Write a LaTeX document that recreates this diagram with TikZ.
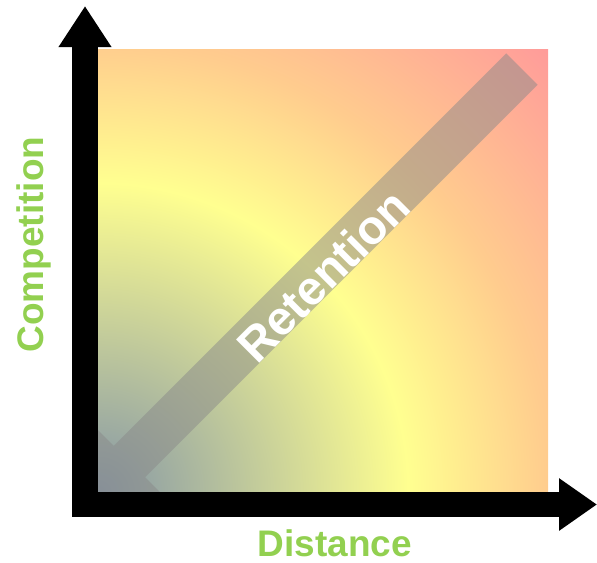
\documentclass[tikz,border=0pt]{standalone}
\usepackage{fontspec}
\setmainfont{Liberation Sans}
\usepackage{tikz}
\usetikzlibrary{arrows.meta}

\definecolor{bgcore}{HTML}{8496A6}
\definecolor{bgyellow}{HTML}{FFFF90}
\definecolor{bgorange}{HTML}{FFCC8E}
\definecolor{bgpink}{HTML}{FF9A9A}
\definecolor{labelgreen}{HTML}{92D050}

\pgfdeclareradialshading{retentionbg}{\pgfpointorigin}{%
  color(0bp)=(bgcore); color(12.11bp)=(bgyellow); color(17.58bp)=(bgorange);
  color(24.84bp)=(bgpink); color(50bp)=(bgpink)}

\tikzset{
  axislabel/.style={font=\fontsize{26.3}{26.3}\selectfont\bfseries, text=labelgreen, inner sep=0pt},
  axisline/.style={line width=0.625cm, line join=miter,
    {Triangle[length=1.025cm,width=1.25cm]}-{Triangle[length=0.95cm,width=1.25cm]}},
  retentionband/.style={fill=black!46, fill opacity=0.5}
}

\begin{document}
\begin{tikzpicture}[x=0.025cm,y=0.025cm]
\useasboundingbox (0,0) rectangle (597,562);
% Fondo con degradado radial desde la esquina
\begin{scope}
  \clip (98,69) rectangle (548,513);
  \shade[shading=retentionbg] (98,69) circle (16cm);
\end{scope}
% Flecha diagonal (retencion)
\begin{scope}[shift={(98,69)}, rotate=45]
  \fill[retentionband] (0,0) -- (44.5,44.5) -- (44.5,22.25) -- (599.5,22.25)
    -- (599.5,-22.25) -- (44.5,-22.25) -- (44.5,-44.5) -- cycle;
  \node[rotate=45, text=white, inner sep=0pt,
    font=\fontsize{34}{34}\selectfont\bfseries] (retention) at (313,-5) {Retention};
\end{scope}
% Ejes
\draw[axisline] (85,556) -- (85,57.5) -- (597,57.5);
% Etiquetas
\node[axislabel, anchor=base] (distance) at (335,6) {Distance};
\node[axislabel, anchor=base, rotate=90] (competition) at (43,317.5) {Competition};
\end{tikzpicture}
\end{document}
